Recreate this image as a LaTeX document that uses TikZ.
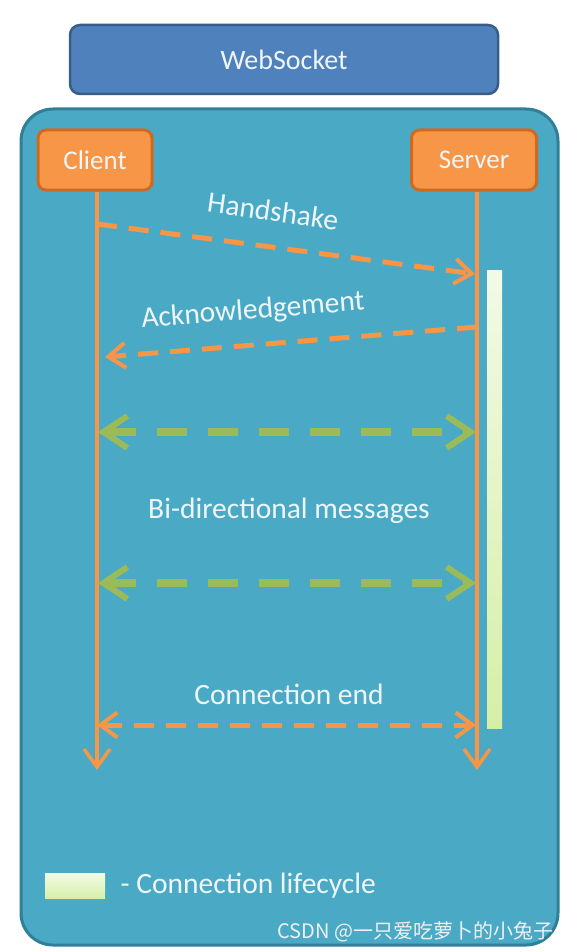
\documentclass[tikz,border=0pt]{standalone}
\usepackage{fontspec}
\setmainfont{Carlito}
\newfontfamily\cjk{Noto Sans CJK SC}
\usetikzlibrary{arrows.meta,positioning}
\definecolor{wsblue}{HTML}{4F81BD}
\definecolor{wsblueline}{HTML}{385D8A}
\definecolor{panel}{HTML}{4AAAC5}
\definecolor{panelline}{HTML}{2F7F97}
\definecolor{actor}{HTML}{F79646}
\definecolor{actorline}{HTML}{CC6A24}
\definecolor{msggreen}{HTML}{9BBB59}
\definecolor{lifetop}{HTML}{F2FAE6}
\definecolor{lifebot}{HTML}{D6EFA6}
\definecolor{labeltext}{HTML}{EEF6FA}
\tikzset{
  actorbox/.style = {draw=actorline, fill=actor, line width=3pt, rounded corners=8pt,
    minimum width=114pt, minimum height=60pt, text=labeltext, font=\fontsize{27}{30}\selectfont},
  lifeline/.style = {actor, line width=3.5pt, -{Straight Barb[length=18pt,width=26pt,line width=3.5pt]}},
  handmsg/.style  = {actor, line width=5pt, dash pattern=on 20pt off 12pt, -{Straight Barb[length=17pt,width=25pt,line width=4pt]}},
  bimsg/.style    = {msggreen, line width=7.5pt, dash pattern=on 30pt off 21pt, {Straight Barb[length=24pt,width=32pt,line width=6pt]}-{Straight Barb[length=24pt,width=32pt,line width=6pt]}},
  endmsg/.style   = {actor, line width=5pt, dash pattern=on 20pt off 12pt, {Straight Barb[length=17pt,width=25pt,line width=4pt]}-{Straight Barb[length=17pt,width=25pt,line width=4pt]}},
  msglabel/.style = {text=labeltext, font=\fontsize{29.5}{33}\selectfont},
}
\begin{document}
\begin{tikzpicture}[x=1pt,y=-1pt]
      \useasboundingbox (0,0) rectangle (570,952);
      % panels
      \node [draw=wsblueline, fill=wsblue, line width=2.5pt, rounded corners=10pt,
        minimum width=428pt, minimum height=69pt, text=labeltext,
        font=\fontsize{28}{32}\selectfont] (ws) at (284,59.5) {WebSocket};
      \draw [panelline, fill=panel, line width=3pt, rounded corners=32pt] (21,109) rectangle (558,945);
      % actors
      \node [actorbox] (client) at (95,160) {Client};
      \node [actorbox, minimum width=125pt] (server) at (474,160) {Server};
      \coordinate (cend) at (97,770);
      \coordinate (send) at (477,770);
      \path (client.south -| cend) coordinate (ctop);
      \path (server.south -| send) coordinate (stop);
      \draw [top color=lifetop, bottom color=lifebot, draw=none] (487,270) rectangle (502,728);
      \draw [lifeline] (ctop) -- (cend);
      \draw [lifeline] (stop) -- (send);
      % messages
      \coordinate (h1) at (97,224);
      \coordinate (h2) at (475,274);
      \coordinate (a1) at (477,327);
      \coordinate (a2) at (105,357);
      \draw [handmsg] (h1) -- (h2);
      \draw [handmsg] (a1) -- (a2);
      \node [msglabel, rotate=-8] (hs) at (273,211) {Handshake};
      \node [msglabel, rotate=4.5] (ack) at (253,311) {Acknowledgement};
      \coordinate (b1) at (98,432);
      \coordinate (b2) at (476,432);
      \coordinate (b3) at (98,583);
      \coordinate (b4) at (476,583);
      \draw [bimsg] (b1) -- (b2);
      \draw [bimsg] (b3) -- (b4);
      \node [msglabel] (bi) at (289,511) {Bi-directional messages};
      \node [msglabel] (ce) at (289,694) {Connection end};
      \coordinate (e1) at (97,725);
      \coordinate (e2) at (476,725);
      \draw [endmsg] (e1) -- (e2);
      % legend
      \node [top color=lifetop, bottom color=lifebot, minimum width=60pt, minimum height=25pt,
        inner sep=0pt] (key) at (75,886) {};
      \node [msglabel, anchor=west, right=12pt of key] (keytext) {- Connection lifecycle};
      \node [anchor=east, text=white!88!gray, font=\cjk\fontsize{20}{23}\selectfont] (mark) at (557,932) {CSDN @一只爱吃萝卜的小兔子};
\end{tikzpicture}
\end{document}
